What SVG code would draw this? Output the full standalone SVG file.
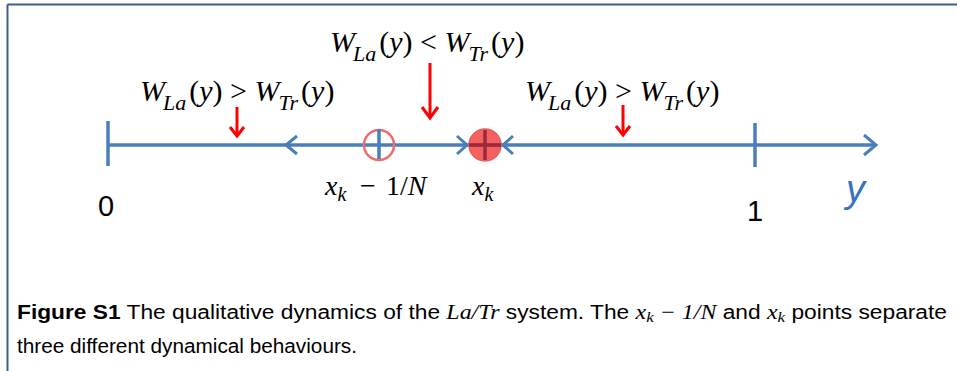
<svg xmlns="http://www.w3.org/2000/svg" width="957" height="371" viewBox="0 0 957 371">
<style>
.ax{stroke:#4a7ebb;stroke-width:3.5;fill:none;stroke-linecap:butt}
.chev{stroke:#4a7ebb;stroke-width:3;fill:none;stroke-linejoin:miter}
.red{stroke:#ff0000;stroke-width:3;fill:none}
.w{font-family:"Liberation Serif",serif;font-style:italic;font-size:30px;fill:#000}
.ws{font-family:"Liberation Serif",serif;font-style:italic;font-size:22px}
.wn{font-family:"Liberation Serif",serif;font-style:normal;font-size:30px}
.lab{font-family:"Liberation Sans",sans-serif;font-size:29px;fill:#000}
.m{font-family:"Liberation Serif",serif;font-size:28px;fill:#000}
.mi{font-style:italic}
.cap{font-family:"Liberation Sans",sans-serif;font-size:20px;fill:#000}
.capm{font-family:"Liberation Serif",serif;font-style:italic;font-size:21px}
</style>
<g id="frame">
<line x1="7.5" y1="4.5" x2="957" y2="4.5" stroke="#3d5e8c" stroke-width="2"/>
<line x1="7.5" y1="4.5" x2="7.5" y2="371" stroke="#3d5e8c" stroke-width="2"/>
</g>
<g id="connectors">
<line class="ax" x1="108" y1="145" x2="876" y2="145"/>
<line class="ax" x1="108" y1="121" x2="108" y2="166"/>
<line class="ax" x1="755" y1="123" x2="755" y2="167"/>
<polyline class="chev" points="297,136 286,145 297,154"/>
<polyline class="chev" points="457,136 467,145 457,154"/>
<polyline class="chev" points="513,136 503,145 513,154"/>
<polyline class="chev" points="864,135 876,145 864,155"/>
<g id="arrow-left">
<line class="red" x1="237" y1="107" x2="237" y2="135"/>
<polyline class="red" points="230,127 237,136 244,127"/>
</g>
<g id="arrow-mid">
<line class="red" x1="430" y1="63" x2="430" y2="117"/>
<polyline class="red" points="422,107 430,118 438,107"/>
</g>
<g id="arrow-right">
<line class="red" x1="623" y1="105" x2="623" y2="134"/>
<polyline class="red" points="616,126 623,135 630,126"/>
</g>
</g>
<g id="node-unstable">
<circle cx="379" cy="145" r="15" fill="none" stroke="#f26b6b" stroke-width="2.5"/>
<line class="ax" x1="379" y1="129" x2="379" y2="159"/>
</g>
<g id="node-stable">
<circle cx="485" cy="145" r="16" fill="#f23a3a" fill-opacity="0.8" stroke="#e85c5c" stroke-width="1.5"/>
<line x1="485" y1="130" x2="485" y2="160" stroke="#9a2a3a" stroke-width="3.5"/>
<line x1="469" y1="145" x2="501" y2="145" stroke="#9a2a3a" stroke-width="3.5"/>
</g>
<g id="label-left">
<text class="w" x="140" y="101">W<tspan class="ws" dy="9" dx="-2">La</tspan><tspan class="wn" dy="-9" dx="3">(</tspan>y<tspan class="wn">) &gt; </tspan>W<tspan class="ws" dy="9" dx="-1">Tr</tspan><tspan class="wn" dy="-9" dx="3">(</tspan>y<tspan class="wn">)</tspan></text>
</g>
<g id="label-mid">
<text class="w" x="330" y="52">W<tspan class="ws" dy="9" dx="-2">La</tspan><tspan class="wn" dy="-9" dx="3">(</tspan>y<tspan class="wn">) &lt; </tspan>W<tspan class="ws" dy="9" dx="-1">Tr</tspan><tspan class="wn" dy="-9" dx="3">(</tspan>y<tspan class="wn">)</tspan></text>
</g>
<g id="label-right">
<text class="w" x="525" y="101">W<tspan class="ws" dy="9" dx="-2">La</tspan><tspan class="wn" dy="-9" dx="3">(</tspan>y<tspan class="wn">) &gt; </tspan>W<tspan class="ws" dy="9" dx="-1">Tr</tspan><tspan class="wn" dy="-9" dx="3">(</tspan>y<tspan class="wn">)</tspan></text>
</g>
<g id="axis-labels">
<text class="lab" x="98" y="216">0</text>
<text class="lab" x="747" y="221">1</text>
<text x="846" y="202" font-family="Liberation Sans,sans-serif" font-style="italic" font-size="38" fill="#3a70c0">y</text>
<text class="m" x="325" y="195"><tspan class="mi">x</tspan><tspan class="mi" font-size="20" y="201">k</tspan><tspan x="360" y="195">−</tspan><tspan x="386">1/</tspan><tspan class="mi">N</tspan></text>
<text class="m" x="472" y="195"><tspan class="mi">x</tspan><tspan class="mi" font-size="20" y="201">k</tspan></text>
</g>
<g id="caption">
<text class="cap" x="17" y="319" textLength="930" lengthAdjust="spacingAndGlyphs"><tspan font-weight="bold">Figure S1</tspan>  The qualitative dynamics of the <tspan class="capm">La</tspan><tspan class="capm" font-style="normal">/</tspan><tspan class="capm">Tr</tspan> system. The <tspan class="capm">x<tspan font-size="15" dy="3">k</tspan></tspan><tspan class="capm" font-style="normal" dy="-3"> − 1/</tspan><tspan class="capm">N</tspan> and <tspan class="capm">x<tspan font-size="15" dy="3">k</tspan></tspan><tspan dy="-3"> points separate</tspan></text>
<text class="cap" x="17" y="353" textLength="340" lengthAdjust="spacingAndGlyphs">three different dynamical behaviours.</text>
</g>
</svg>
